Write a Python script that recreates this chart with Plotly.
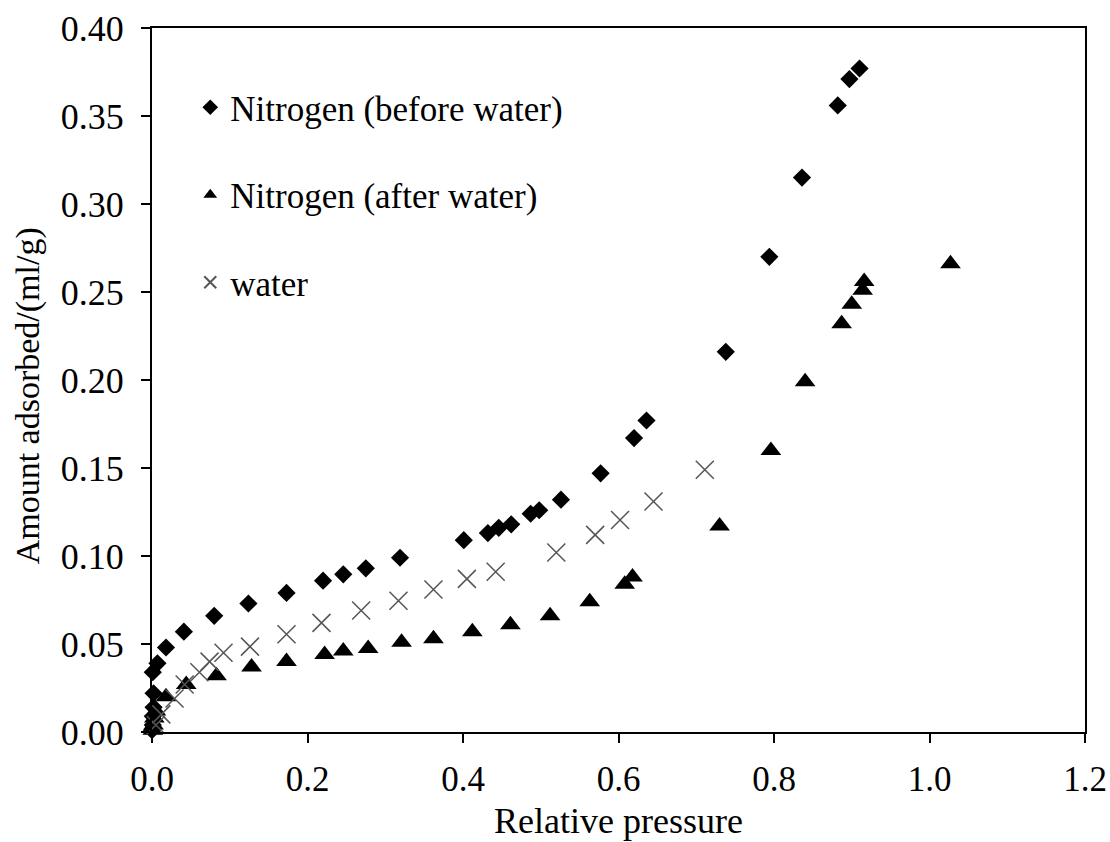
import plotly.graph_objects as go

# Nitrogen (before water)
n2_before_x = [0.000, 0.001, 0.001, 0.002, 0.002, 0.001, 0.007, 0.018, 0.041, 0.080, 0.124, 0.173,
               0.220, 0.246, 0.275, 0.319, 0.401, 0.432, 0.446, 0.462, 0.487, 0.498, 0.526, 0.577,
               0.620, 0.636, 0.738, 0.794, 0.836, 0.882, 0.897, 0.910]
n2_before_y = [0.001, 0.004, 0.009, 0.014, 0.022, 0.034, 0.039, 0.048, 0.057, 0.066, 0.073, 0.079,
               0.086, 0.0896, 0.093, 0.099, 0.109, 0.113, 0.116, 0.118, 0.124, 0.126, 0.132, 0.147,
               0.167, 0.177, 0.216, 0.270, 0.315, 0.356, 0.371, 0.377]

# Nitrogen (after water)
n2_after_x = [0.001, 0.002, 0.003, 0.005, 0.018, 0.044, 0.083, 0.128, 0.173, 0.222, 0.246, 0.278,
              0.321, 0.362, 0.412, 0.461, 0.512, 0.563, 0.608, 0.618, 0.730, 0.796, 0.840, 0.887,
              0.900, 0.914, 0.916, 1.027]
n2_after_y = [0.001, 0.004, 0.008, 0.012, 0.020, 0.027, 0.032, 0.037, 0.040, 0.044, 0.046, 0.0475,
              0.051, 0.053, 0.057, 0.061, 0.066, 0.074, 0.084, 0.088, 0.117, 0.160, 0.199, 0.232,
              0.243, 0.251, 0.256, 0.266]

# water
water_x = [0.005, 0.012, 0.029, 0.042, 0.061, 0.074, 0.092, 0.126, 0.173, 0.218, 0.269, 0.317,
           0.362, 0.405, 0.442, 0.520, 0.570, 0.602, 0.645, 0.711]
water_y = [0.004, 0.010, 0.019, 0.027, 0.034, 0.040, 0.045, 0.0485, 0.0555, 0.062, 0.069, 0.0746,
           0.081, 0.087, 0.091, 0.102, 0.112, 0.1205, 0.131, 0.149]

x_ticks = [0.0, 0.2, 0.4, 0.6, 0.8, 1.0, 1.2]
y_ticks = [0.00, 0.05, 0.10, 0.15, 0.20, 0.25, 0.30, 0.35, 0.40]

FONT = "Liberation Serif"

fig = go.Figure()
fig.add_trace(go.Scatter(
    x=n2_before_x, y=n2_before_y, mode="markers", name="Nitrogen (before water)",
    legendgroup="a", cliponaxis=False,
    marker=dict(symbol="diamond", size=14, color="black")))
fig.add_trace(go.Scatter(
    x=n2_after_x, y=n2_after_y, mode="markers", name="Nitrogen (after water)",
    legendgroup="b", cliponaxis=False,
    marker=dict(symbol="triangle-up", size=18, color="black")))
fig.add_trace(go.Scatter(
    x=water_x, y=water_y, mode="markers", name="water",
    legendgroup="c", cliponaxis=False,
    marker=dict(symbol="x-thin", size=18, color="#555555",
                line=dict(color="#555555", width=1.5))))

axis_common = dict(showline=True, linecolor="black", linewidth=2, mirror=True,
                   ticks="outside", tickcolor="black", tickwidth=2, ticklen=9,
                   showgrid=False, zeroline=False, automargin=False)

fig.update_layout(
    width=1110, height=842,
    paper_bgcolor="white", plot_bgcolor="white",
    margin=dict(l=152, r=25, t=28, b=110),
    font=dict(family=FONT, color="black"),
    xaxis=dict(range=[0, 1.2], tickvals=x_ticks, tickformat=".1f",
               tickfont=dict(family=FONT, size=35, color="black"),
               ticklabelstandoff=6,
               title=dict(text="Relative pressure", font=dict(family=FONT, size=36), standoff=10),
               **axis_common),
    yaxis=dict(range=[0, 0.4], tickvals=y_ticks, tickformat=".2f",
               tickfont=dict(family=FONT, size=36, color="black"),
               ticklabelstandoff=10,
               **axis_common),
    legend=dict(x=0.041, y=0.929, xanchor="left", yanchor="top",
                bgcolor="rgba(0,0,0,0)", traceorder="grouped", tracegroupgap=39,
                itemsizing="constant",
                font=dict(family=FONT, size=35, color="black")),
    annotations=[dict(text="Amount adsorbed/(ml/g)", textangle=-90,
                      xref="paper", yref="paper", x=-0.132, y=0.478,
                      xanchor="center", yanchor="middle", showarrow=False,
                      font=dict(family=FONT, size=34, color="black"))],
)

fig.write_html("out.html")
